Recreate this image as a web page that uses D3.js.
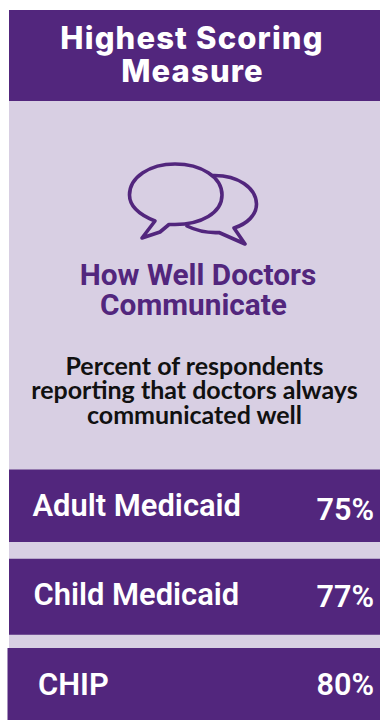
<!DOCTYPE html>
<html>
<head>
<meta charset="utf-8">
<script src="https://cdn.jsdelivr.net/npm/d3@7/dist/d3.min.js"></script>
<style>
html,body{margin:0;padding:0;background:#fff;overflow:hidden}
svg{display:block}
</style>
</head>
<body>
<div id="chart"></div>
<script>
const programs = ["Adult Medicaid", "Child Medicaid", "CHIP"];
const scores = [75, 77, 80];
const titleLines = ["Highest Scoring", "Measure"];
const measureLines = ["How Well Doctors", "Communicate"];
const noteLines = ["Percent of respondents", "reporting that doctors always", "communicated well"];

const W = 380, H = 720;
const PURPLE = "#52267d", LILAC = "#d8cfe3";
const svg = d3.select("#chart").append("svg").attr("width", W).attr("height", H);

svg.append("rect").attr("x", 9).attr("y", 10).attr("width", W - 9).attr("height", H - 10).attr("fill", LILAC);
svg.append("rect").attr("x", 9).attr("y", 10).attr("width", W - 9).attr("height", 91).attr("fill", PURPLE);

function block(lines, opts) {
  svg.append("g").selectAll("text").data(lines).join("text")
    .attr("x", (d, i) => opts.x[i])
    .attr("y", (d, i) => opts.y + i * opts.lead)
    .attr("text-anchor", "middle")
    .attr("font-family", opts.font)
    .attr("font-weight", opts.weight)
    .attr("font-size", opts.size)
    .attr("letter-spacing", opts.spacing || 0)
    .attr("fill", opts.fill)
    .text(d => d);
}

block(titleLines, {x: [192, 192.5], y: 49, lead: 33, font: "Inter", weight: 800, size: 31, spacing: 1.15, fill: "#fff"});
block(measureLines, {x: [198, 193.5], y: 285, lead: 30, font: "Roboto", weight: 700, size: 29.8, fill: PURPLE});
block(noteLines, {x: [194.5, 194.5, 194.5], y: 374.5, lead: 24.7, font: "Lato", weight: 700, size: 25, fill: "#111"});

// Speech bubbles: the rear bubble is stroked first and stops where the front one begins
const rear = d3.path();
rear.moveTo(213, 175.5);
rear.bezierCurveTo(238, 175, 256, 188, 256.5, 204);
rear.bezierCurveTo(256.5, 215, 247, 224, 234, 228);
rear.lineTo(245, 244);
rear.lineTo(219, 232.5);
rear.bezierCurveTo(208, 233, 197, 231, 187, 226);
const front = d3.path();
front.moveTo(155, 221);
front.bezierCurveTo(140, 215, 129.5, 207, 129.5, 195);
front.bezierCurveTo(129.5, 177, 150, 164, 175, 164);
front.bezierCurveTo(201, 164, 222, 177, 222, 195);
front.bezierCurveTo(222, 213, 201, 224.5, 175, 224.5);
front.bezierCurveTo(173, 224.5, 171, 224.5, 169, 224.5);
front.lineTo(160, 232);
front.lineTo(142, 238);
front.closePath();
svg.append("g").selectAll("path").data([rear, front]).join("path")
  .attr("d", d => d.toString())
  .attr("fill", "none")
  .attr("stroke", PURPLE)
  .attr("stroke-width", 3.6)
  .attr("stroke-linejoin", "round")
  .attr("stroke-linecap", "round");

// Score rows
const rowY = d3.scalePoint().domain(programs).range([469.5, 648]);
const rowHeight = d3.scaleOrdinal().domain(programs).range([72.5, 76, 72]);
const rowLeft = d3.scaleOrdinal().domain(programs).range([9, 9, 7.5]);
const labelX = d3.scaleOrdinal().domain(programs).range([32.5, 33.5, 38]);
const labelY = d3.scaleOrdinal().domain(programs).range([516, 605, 695]);
const valueY = d3.scaleOrdinal().domain(programs).range([520, 607, 695]);

const rows = svg.append("g").selectAll("g").data(programs).join("g");
rows.append("rect")
  .attr("x", d => rowLeft(d))
  .attr("y", d => rowY(d))
  .attr("width", d => W - rowLeft(d))
  .attr("height", d => rowHeight(d))
  .attr("fill", PURPLE);
rows.append("text")
  .attr("x", d => labelX(d))
  .attr("y", d => labelY(d))
  .attr("font-family", "Roboto").attr("font-weight", 600).attr("font-size", 30.9)
  .attr("fill", "#fff")
  .text(d => d);
rows.append("text")
  .attr("x", 374)
  .attr("y", d => valueY(d))
  .attr("text-anchor", "end")
  .attr("font-family", "Roboto").attr("font-weight", 600).attr("font-size", 30.6)
  .attr("fill", "#fff")
  .text((d, i) => scores[i] + "%");
</script>
</body>
</html>
